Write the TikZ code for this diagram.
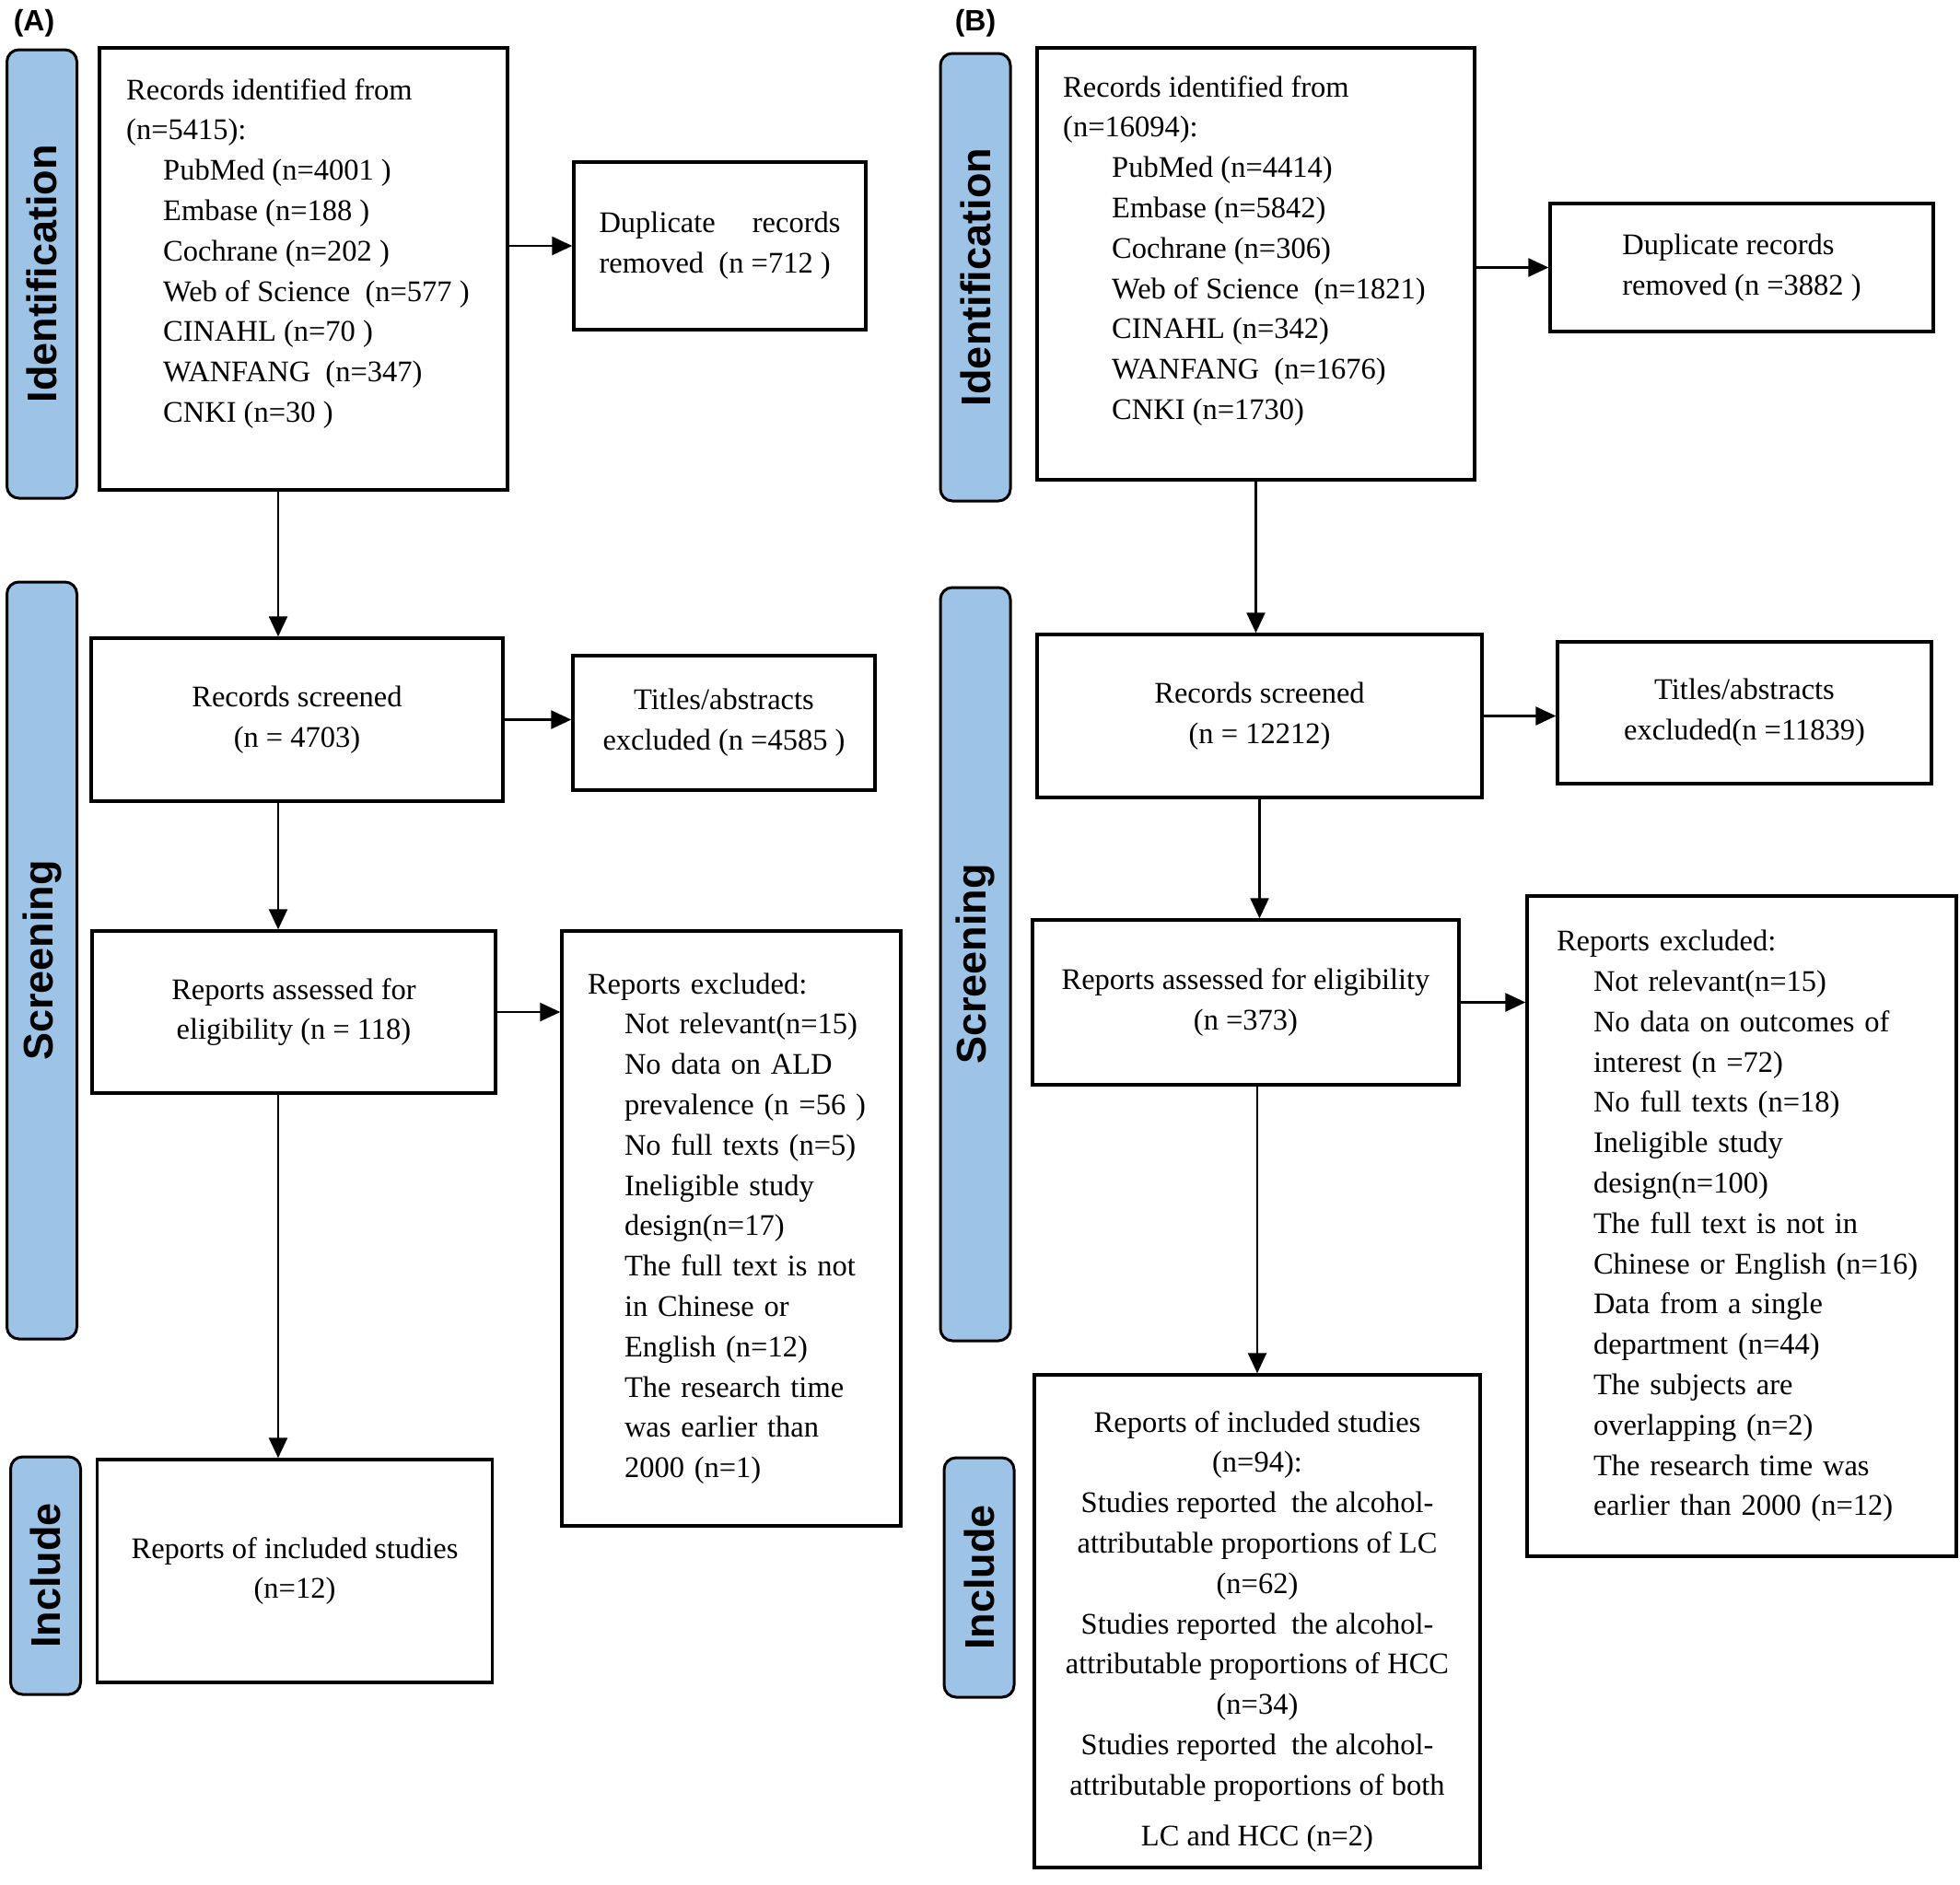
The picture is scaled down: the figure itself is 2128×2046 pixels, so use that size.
\documentclass[tikz,border=0pt]{standalone}
\usepackage{fontspec}
\setmainfont{Liberation Serif}
\setsansfont{Liberation Sans}
\usetikzlibrary{arrows.meta}
\definecolor{ourbarblue}{HTML}{9DC3E6}
\newcommand{\boxfont}{\fontsize{32.5}{43.8}\selectfont}
\newcommand{\barfont}{\fontsize{45}{54}\selectfont\sffamily\bfseries}
\newcommand{\listgap}{\hspace*{40pt}}
\newcommand{\widelistgap}{\hspace*{53pt}}

\begin{document}
\begin{tikzpicture}[x=1pt,y=-1pt]

  \tikzstyle{stagebar}=[draw, line width=3pt, rounded corners=13pt,
                        fill=ourbarblue, rotate=90, minimum height=76pt,
                        inner sep=0pt, font=\barfont]
  \tikzstyle{flowbox}=[draw, line width=3.5pt, inner sep=0pt, align=center, font=\boxfont]
  \tikzstyle{listbox}=[draw, line width=3.5pt, inner ysep=0pt, align=left, font=\boxfont]
  \tikzstyle{boxtext}=[inner sep=0pt, align=left, font=\boxfont]
  \tikzstyle{panel}=[font=\fontsize{32}{38}\selectfont\sffamily\bfseries]
  \tikzstyle{arrow}=[line width=2.5pt, -{Triangle[length=22pt,width=20pt]}]

  \useasboundingbox (0,0) rectangle (2128,2046);

  % panel A
  \path (37,25) node[panel](labA){(A)};

  \path
  (45.5,297.5) node[stagebar, minimum width=487pt](idbarA){Identification}
  (45.5,1043)  node[stagebar, minimum width=822pt](scrbarA){Screening}
  (49.5,1711)  node[stagebar, minimum width=258pt](incbarA){Include};

  \path
  (329.5,292) node[flowbox, minimum width=443pt, minimum height=480pt](idA){}
  (137,85) node[boxtext, anchor=north west](idAtext){Records identified from\\
    (n=5415):\\
    \listgap PubMed (n=4001 )\\
    \listgap Embase (n=188 )\\
    \listgap Cochrane (n=202 )\\
    \listgap Web of Science~ (n=577 )\\
    \listgap CINAHL (n=70 )\\
    \listgap WANFANG~ (n=347)\\
    \listgap CNKI (n=30 )};

  \path
  (781.5,267) node[flowbox, align=justify, text width=262pt, inner xsep=27.5pt,
                   minimum height=182pt](dupA){Duplicate records removed~ (n =712 )};

  \path
  (322.5,781.5) node[flowbox, minimum width=447pt, minimum height=177pt](recA){Records screened\\(n = 4703)}
  (786,785)     node[flowbox, minimum width=328pt, minimum height=146pt](titA){Titles/abstracts\\excluded (n =4585 )};

  \path
  (319,1099) node[flowbox, minimum width=438pt, minimum height=176pt](assA){Reports assessed for\\eligibility (n = 118)}
  (794,1334) node[listbox, text width=312pt, inner xsep=28pt, minimum height=646pt](exclA){Reports excluded:\\
    \listgap Not relevant(n=15)\\
    \listgap No data on ALD\\
    \listgap prevalence (n =56 )\\
    \listgap No full texts (n=5)\\
    \listgap Ineligible study\\
    \listgap design(n=17)\\
    \listgap The full text is not\\
    \listgap in Chinese or\\
    \listgap English (n=12)\\
    \listgap The research time\\
    \listgap was earlier than\\
    \listgap 2000 (n=1)};

  \path
  (320,1706) node[flowbox, minimum width=429pt, minimum height=242pt](inclA){Reports of included studies\\(n=12)};

  \coordinate (colA) at (302,0);

  \draw[arrow] (idA.east |- dupA.west) -- (dupA.west);
  \draw[arrow] (colA |- idA.south) -- (colA |- recA.north);
  \draw[arrow] (recA.east) -- (recA.east -| titA.west);
  \draw[arrow] (colA |- recA.south) -- (colA |- assA.north);
  \draw[arrow] (assA.east) -- (assA.east -| exclA.west);
  \draw[arrow] (colA |- assA.south) -- (colA |- inclA.north);

  % panel B
  \path (1059,25) node[panel](labB){(B)};

  \path
  (1059,301)  node[stagebar, minimum width=486pt](idbarB){Identification}
  (1059,1047) node[stagebar, minimum width=818pt](scrbarB){Screening}
  (1063,1713) node[stagebar, minimum width=260pt](incbarB){Include};

  \path
  (1363.5,286.5) node[flowbox, minimum width=475pt, minimum height=469pt](idB){}
  (1154,82) node[boxtext, anchor=north west](idBtext){Records identified from\\
    (n=16094):\\
    \widelistgap PubMed (n=4414)\\
    \widelistgap Embase (n=5842)\\
    \widelistgap Cochrane (n=306)\\
    \widelistgap Web of Science~ (n=1821)\\
    \widelistgap CINAHL (n=342)\\
    \widelistgap WANFANG~ (n=1676)\\
    \widelistgap CNKI (n=1730)};

  \path
  (1891,290.5) node[flowbox, align=left, minimum width=416pt, minimum height=139pt](dupB){Duplicate records\\removed (n =3882 )};

  \path
  (1367.5,777.5) node[flowbox, minimum width=483pt, minimum height=177pt](recB){Records screened\\(n = 12212)}
  (1894,774)     node[flowbox, minimum width=406pt, minimum height=154pt](titB){Titles/abstracts\\excluded(n =11839)};

  \path
  (1352.5,1088.5) node[flowbox, minimum width=463pt, minimum height=179pt](assB){Reports assessed for eligibility\\(n =373)}
  (1891,1331.5)   node[listbox, text width=402pt, inner xsep=32pt, minimum height=717pt](exclB){Reports excluded:\\
    \listgap Not relevant(n=15)\\
    \listgap No data on outcomes of\\
    \listgap interest (n =72)\\
    \listgap No full texts (n=18)\\
    \listgap Ineligible study\\
    \listgap design(n=100)\\
    \listgap The full text is not in\\
    \listgap Chinese or English (n=16)\\
    \listgap Data from a single\\
    \listgap department (n=44)\\
    \listgap The subjects are\\
    \listgap overlapping (n=2)\\
    \listgap The research time was\\
    \listgap earlier than 2000 (n=12)};

  \path
  (1365,1760.5) node[flowbox, minimum width=484pt, minimum height=535pt](inclB){}
  (1365,1532) node[boxtext, align=center, anchor=north](inclBtext){Reports of included studies\\
    (n=94):\\
    Studies reported~ the alcohol-\\
    attributable proportions of LC\\
    (n=62)\\
    Studies reported~ the alcohol-\\
    attributable proportions of HCC\\
    (n=34)\\
    Studies reported~ the alcohol-\\
    attributable proportions of both\\[11pt]
    LC and HCC (n=2)};

  \draw[arrow] (idB.east |- dupB.west) -- (dupB.west);
  \draw[arrow] (idB.south) -- (idB.south |- recB.north);
  \draw[arrow] (recB.east) -- (recB.east -| titB.west);
  \draw[arrow] (recB.south) -- (recB.south |- assB.north);
  \draw[arrow] (assB.east) -- (assB.east -| exclB.west);
  \draw[arrow] (assB.south -| inclB.north) -- (inclB.north);

\end{tikzpicture}
\end{document}
